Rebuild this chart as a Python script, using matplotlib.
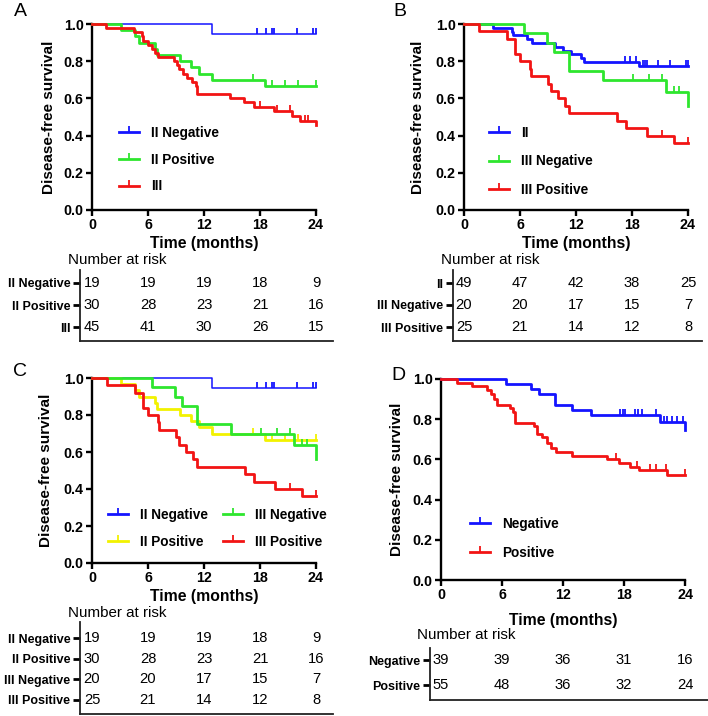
import numpy as np
import matplotlib
matplotlib.use("Agg")
import matplotlib.pyplot as plt
from matplotlib.lines import Line2D

plt.rcParams['font.family'] = ['Liberation Sans', 'DejaVu Sans']

# ---------------------------------------------------------
# DATA
# ---------------------------------------------------------

# II Negative (n=19)
ii_neg_t = [0, 12.9, 24]
ii_neg_s = [1.0, 0.947, 0.947]
ii_neg_cens = [17.7, 18.6, 19.3, 19.5, 22.0, 23.7, 24.0]

# II Positive (n=30)
ii_pos_t = [0, 3.1, 4.6, 5.0, 6.7, 7.0, 9.4, 10.6, 11.5, 12.9, 18.5, 24]
ii_pos_s = [1.0, 0.967, 0.933, 0.9, 0.867, 0.833, 0.8, 0.767, 0.733, 0.7, 0.667, 0.667]
ii_pos_cens = [17.2, 19.3, 20.7, 22.1, 24.0]

# III (n=45)
iii_t = [0, 1.5, 4.5, 5.4, 5.5, 6.0, 6.4, 6.8, 7.1, 8.8, 9.1, 9.3, 9.8, 10.2,
         10.7, 11.1, 11.3, 14.8, 16.3, 17.4, 19.5, 21.4, 22.3, 24]
iii_s = [1.0, 0.978, 0.956, 0.933, 0.911, 0.889, 0.867, 0.844, 0.822, 0.8, 0.778,
         0.756, 0.733, 0.711, 0.689, 0.667, 0.622, 0.6, 0.578, 0.556, 0.533, 0.508,
         0.48, 0.455]
iii_cens = [18.0, 19.8, 21.2, 22.8, 23.1]

# II (n=49)
ii_t = [0, 3.1, 5.1, 5.3, 6.7, 7.3, 9.7, 10.6, 11.5, 12.5, 12.9, 18.7, 24]
ii_s = [1.0, 0.98, 0.959, 0.939, 0.918, 0.898, 0.878, 0.857, 0.837, 0.816, 0.796,
        0.775, 0.775]
ii_cens = [17.3, 17.8, 18.4, 19.2, 19.4, 19.6, 20.8, 22.1, 23.8, 24.0]

# III Negative (n=20)
iii_neg_t = [0, 6.4, 8.9, 9.6, 11.3, 14.9, 21.6, 24]
iii_neg_s = [1.0, 0.95, 0.9, 0.85, 0.75, 0.7, 0.636, 0.56]
iii_neg_cens = [18.1, 19.8, 21.2, 22.5, 23.0]

# III Positive (n=25)
iii_pos_t = [0, 1.6, 4.6, 5.5, 6.0, 7.1, 7.2, 9.0, 9.3, 10.1, 10.8, 11.2, 16.4,
             17.4, 19.6, 22.5, 24]
iii_pos_s = [1.0, 0.96, 0.92, 0.84, 0.8, 0.76, 0.72, 0.68, 0.64, 0.6, 0.56, 0.52,
             0.48, 0.44, 0.4, 0.36, 0.36]
iii_pos_cens = [21.2, 24.0]

# Negative (n=39)
neg_t = [0, 6.4, 8.9, 9.6, 11.2, 12.9, 14.8, 21.5, 24]
neg_s = [1.0, 0.974, 0.949, 0.923, 0.872, 0.846, 0.821, 0.786, 0.745]
neg_cens = [17.6, 17.9, 18.1, 19.1, 19.4, 19.8, 21.1, 21.9, 22.2, 22.7, 23.2, 23.8]

# Positive (n=55)
pos_t = [0, 1.6, 3.05, 4.5, 4.9, 5.2, 5.5, 6.8, 7.1, 7.3, 9.1, 9.4, 9.9, 10.4,
         10.8, 11.3, 12.9, 16.3, 17.5, 18.6, 19.5, 22.2, 24]
pos_s = [1.0, 0.982, 0.964, 0.945, 0.927, 0.9, 0.873, 0.855, 0.836, 0.782, 0.764,
         0.727, 0.709, 0.682, 0.655, 0.636, 0.618, 0.6, 0.58, 0.563, 0.545, 0.522,
         0.522]
pos_cens = [17.2, 19.3, 20.6, 21.1, 22.1, 24.0]

risk_times = [0, 6, 12, 18, 24]
risk_a = {"II Negative": [19, 19, 19, 18, 9],
          "II Positive": [30, 28, 23, 21, 16],
          "III": [45, 41, 30, 26, 15]}
risk_b = {"II": [49, 47, 42, 38, 25],
          "III Negative": [20, 20, 17, 15, 7],
          "III Positive": [25, 21, 14, 12, 8]}
risk_c = {"II Negative": [19, 19, 19, 18, 9],
          "II Positive": [30, 28, 23, 21, 16],
          "III Negative": [20, 20, 17, 15, 7],
          "III Positive": [25, 21, 14, 12, 8]}
risk_d = {"Negative": [39, 39, 36, 31, 16],
          "Positive": [55, 48, 36, 32, 24]}

BLUE = "#1414ff"
GREEN = "#2ee62e"
RED = "#f21414"
YELLOW = "#f2f200"

# ---------------------------------------------------------
# LAYOUT HELPERS (pixel boxes -> figure fractions)
# ---------------------------------------------------------

W, H = 708, 716
fig = plt.figure(figsize=(W / 100, H / 100), dpi=100)


def rect(l, t, r, b):
    return [l / W, 1 - b / H, (r - l) / W, (b - t) / H]


def km_panel(box, curves, ylab_x, xlab_y):
    l, t, r, b = box
    ax = fig.add_axes(rect(*box))
    for times, surv, cens, color, lw in curves:
        ax.step(times, surv, where="post", color=color, lw=lw, clip_on=False, zorder=3)
        idx = np.searchsorted(times, cens, side="right") - 1
        ax.plot(cens, np.array(surv)[idx], ls="none", marker=2, ms=4.5, mew=1.3,
                color=color, clip_on=False, zorder=3)
    ax.set_xlim(0, 24)
    ax.set_ylim(0, 1)
    ax.set_xticks([0, 6, 12, 18, 24])
    ax.set_yticks([0, 0.2, 0.4, 0.6, 0.8, 1.0])
    ax.set_yticklabels(["0.0", "0.2", "0.4", "0.6", "0.8", "1.0"])
    for s in ("top", "right"):
        ax.spines[s].set_visible(False)
    for s in ("left", "bottom"):
        ax.spines[s].set_linewidth(1.7)
    ax.tick_params(width=1.7, length=4.5, pad=1.5, labelsize=10.3)
    for lab in ax.get_xticklabels() + ax.get_yticklabels():
        lab.set_fontweight("bold")
    ax.set_xlabel("Time (months)", fontsize=11.3, fontweight="bold")
    ax.set_ylabel("Disease-free survival", fontsize=11, fontweight="bold")
    ax.xaxis.label.set_va("center")
    ax.yaxis.label.set_va("center")
    ax.xaxis.set_label_coords(0.5, (b - xlab_y) / (b - t))
    ax.yaxis.set_label_coords((ylab_x - l) / (r - l), 0.5)
    return ax


def add_legend(ax, labels, colors, left_px, cy_px, ncol=1, spacing=0.85, colsp=1.2):
    handles = [Line2D([0], [0], color=c, lw=2.0, marker=2, ms=4.5, mew=1.3)
               for c in colors]
    ax.legend(handles, labels, loc="center left", ncol=ncol,
              bbox_to_anchor=(left_px / W, 1 - cy_px / H), bbox_transform=fig.transFigure,
              frameon=False, numpoints=1, handlelength=1.5, handletextpad=0.85,
              labelspacing=spacing, columnspacing=colsp, borderpad=0, borderaxespad=0,
              prop={"weight": "bold", "size": 9.8})


def risk_table(box, main_box, rows, row_px, title_xy):
    l, t, r, b = box
    ml, mr = main_box[0], main_box[2]
    pxpm = (mr - ml) / 24.0
    ax = fig.add_axes(rect(*box))
    s = (row_px[-1] - row_px[0]) / (len(row_px) - 1)
    ax.set_ylim((len(row_px) - 1) + (b - row_px[-1]) / s, -(row_px[0] - t) / s)
    ax.set_xlim((l - ml) / pxpm, (r - ml) / pxpm)
    names = list(rows.keys())
    for i, name in enumerate(names):
        for tm, n in zip(risk_times, rows[name]):
            ax.text(tm, i, str(n), ha="center", va="center", fontsize=10.6)
    ax.set_yticks(range(len(names)))
    ax.set_yticklabels(names, fontsize=9, fontweight="bold")
    ax.set_xticks([])
    for sp in ("top", "right"):
        ax.spines[sp].set_visible(False)
    for sp in ("left", "bottom"):
        ax.spines[sp].set_linewidth(1.3)
        ax.spines[sp].set_color("#222222")
    ax.tick_params(axis="y", length=5, width=2, pad=2)
    fig.text(title_xy[0] / W, 1 - title_xy[1] / H, "Number at risk",
             ha="left", va="center", fontsize=10.9)
    return ax


# ---------------------------------------------------------
# PANEL A
# ---------------------------------------------------------
box_a = (92, 24, 316, 210)
ax_a = km_panel(box_a, [
    (ii_neg_t, ii_neg_s, ii_neg_cens, BLUE, 1.1),
    (ii_pos_t, ii_pos_s, ii_pos_cens, GREEN, 2.0),
    (iii_t, iii_s, iii_cens, RED, 2.0),
], ylab_x=49, xlab_y=244)
add_legend(ax_a, ["II Negative", "II Positive", "III"], [BLUE, GREEN, RED], 119, 159.5,
           spacing=0.95)
risk_table((80, 270, 333, 341), box_a, risk_a, [283, 305, 327], (68, 260))
fig.text(20 / W, 1 - 12 / H, "A", ha="center", va="center", fontsize=14)

# ---------------------------------------------------------
# PANEL B
# ---------------------------------------------------------
box_b = (464, 24, 688, 210)
ax_b = km_panel(box_b, [
    (ii_t, ii_s, ii_cens, BLUE, 2.0),
    (iii_neg_t, iii_neg_s, iii_neg_cens, GREEN, 2.0),
    (iii_pos_t, iii_pos_s, iii_pos_cens, RED, 2.0),
], ylab_x=418, xlab_y=244)
add_legend(ax_b, ["II", "III Negative", "III Positive"], [BLUE, GREEN, RED], 489, 161.5,
           spacing=1.05)
risk_table((453, 270, 702, 341), box_b, risk_b, [283, 305, 327], (441, 260))
fig.text(400 / W, 1 - 12 / H, "B", ha="center", va="center", fontsize=14)

# ---------------------------------------------------------
# PANEL C
# ---------------------------------------------------------
box_c = (92, 378, 316, 563)
ax_c = km_panel(box_c, [
    (ii_neg_t, ii_neg_s, ii_neg_cens, BLUE, 1.1),
    (ii_pos_t, ii_pos_s, ii_pos_cens, YELLOW, 2.0),
    (iii_neg_t, iii_neg_s, iii_neg_cens, GREEN, 2.0),
    (iii_pos_t, iii_pos_s, iii_pos_cens, RED, 2.0),
], ylab_x=46, xlab_y=597)
add_legend(ax_c, ["II Negative", "II Positive", "III Negative", "III Positive"],
           [BLUE, YELLOW, GREEN, RED], 108, 528.5, ncol=2, spacing=0.95, colsp=1.1)
risk_table((80, 622, 333, 714), box_c, risk_c, [638, 658.7, 679.3, 700], (68, 613))
fig.text(20 / W, 1 - 372 / H, "C", ha="center", va="center", fontsize=14)

# ---------------------------------------------------------
# PANEL D
# ---------------------------------------------------------
box_d = (441, 379, 685, 580)
ax_d = km_panel(box_d, [
    (neg_t, neg_s, neg_cens, BLUE, 2.0),
    (pos_t, pos_s, pos_cens, RED, 2.0),
], ylab_x=397, xlab_y=620)
add_legend(ax_d, ["Negative", "Positive"], [BLUE, RED], 470, 538.5, spacing=1.1)
risk_table((430, 648, 708, 700), box_d, risk_d, [660, 685], (417, 635))
fig.text(398 / W, 1 - 375 / H, "D", ha="center", va="center", fontsize=14)

fig.savefig("out.png", dpi=100)
